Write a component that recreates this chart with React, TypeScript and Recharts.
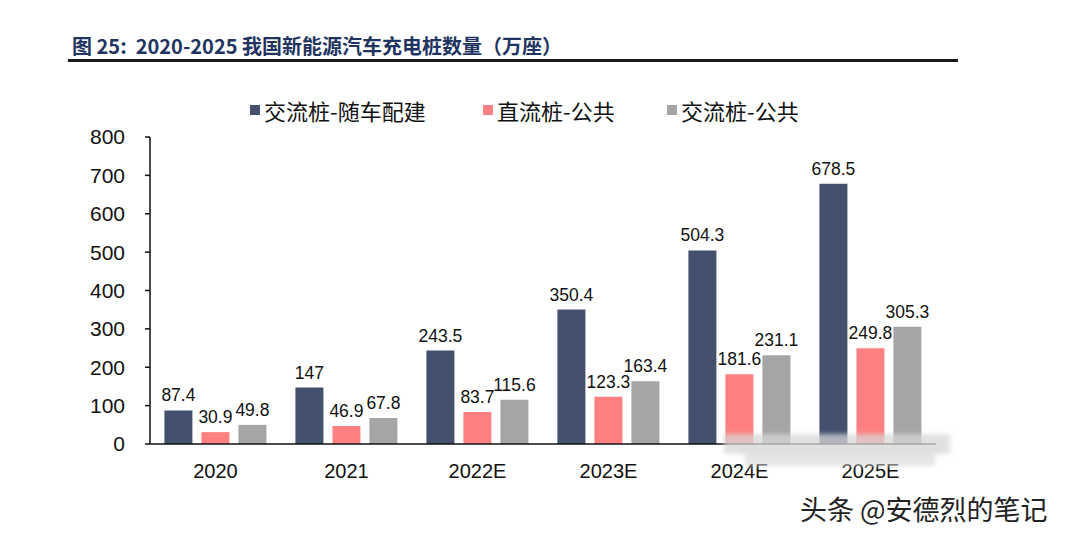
import React from 'react';
import { BarChart, Bar, XAxis, YAxis, LabelList } from 'recharts';

const years = ['2020', '2021', '2022E', '2023E', '2024E', '2025E'];
const acOwned = [87.4, 147, 243.5, 350.4, 504.3, 678.5];
const dcPublic = [30.9, 46.9, 83.7, 123.3, 181.6, 249.8];
const acPublic = [49.8, 67.8, 115.6, 163.4, 231.1, 305.3];
const yTicks = [0, 100, 200, 300, 400, 500, 600, 700, 800];
const boundaryTicks = [0, 1, 2, 3, 4, 5, 6];

const seriesInfo = [
    { key: 'acOwned', name: '交流桩-随车配建', color: '#44506E' },
    { key: 'dcPublic', name: '直流桩-公共', color: '#FF8080' },
    { key: 'acPublic', name: '交流桩-公共', color: '#A5A5A5' },
];

const data = years.map((y, i) => ({
    name: y,
    idx: i + 0.5,
    acOwned: acOwned[i],
    dcPublic: dcPublic[i],
    acPublic: acPublic[i],
}));

const FONT = '"Liberation Sans", Arial, sans-serif';
const CJK = '"Noto Sans CJK SC", "Noto Sans", sans-serif';

export default function App() {
    return (
        <div style={{ position: 'absolute', left: 0, top: 0, width: 1067, height: 536, background: '#fff', overflow: 'hidden' }}>
            {/* title */}
            <div style={{ position: 'absolute', left: 72, top: 33, fontFamily: CJK, fontWeight: 700, fontSize: 20, color: '#1F3461', whiteSpace: 'nowrap', lineHeight: '26px' }}>
                图 25:&nbsp; 2020-2025 我国新能源汽车充电桩数量（万座）
            </div>
            <div style={{ position: 'absolute', left: 68, top: 59, width: 890, height: 2.5, background: '#1a1a1a' }} />

            {/* legend */}
            {seriesInfo.map((s, i) => (
                <div key={s.key} style={{ position: 'absolute', left: [250, 483, 667][i], top: 95, display: 'flex', alignItems: 'center', whiteSpace: 'nowrap' }}>
                    <span style={{ width: 10, height: 10, background: s.color, marginRight: 4, display: 'inline-block' }} />
                    <span style={{ fontFamily: CJK, fontSize: 22, color: '#111', lineHeight: '30px' }}>{s.name}</span>
                </div>
            ))}

            <div style={{ position: 'absolute', left: 0, top: 0 }}>
                <BarChart
                    width={1067}
                    height={536}
                    data={data}
                    margin={{ top: 137, right: 131, left: 90, bottom: 61 }}
                    barCategoryGap="11%"
                    barGap={9}
                >
                    <XAxis
                        dataKey="name"
                        axisLine={{ stroke: '#111', strokeWidth: 1.5 }}
                        tickLine={false}
                        tickMargin={14}
                        height={30}
                        tick={{ fill: '#111', fontSize: 20, fontFamily: FONT }}
                    />
                    <XAxis
                        xAxisId="bounds"
                        type="number"
                        dataKey="idx"
                        domain={[0, 6]}
                        ticks={boundaryTicks}
                        axisLine={false}
                        tickLine={{ stroke: '#111', strokeWidth: 1.5 }}
                        tickSize={6}
                        tick={false}
                        height={1}
                    />
                    <YAxis
                        domain={[0, 800]}
                        ticks={yTicks}
                        width={60}
                        axisLine={{ stroke: '#111', strokeWidth: 1.5 }}
                        tickLine={{ stroke: '#111', strokeWidth: 1.5 }}
                        tickSize={5}
                        tickMargin={20}
                        tick={{ fill: '#111', fontSize: 21, fontFamily: FONT }}
                        interval={0}
                    />
                    {seriesInfo.map((s) => (
                        <Bar key={s.key} dataKey={s.key} name={s.name} fill={s.color} isAnimationActive={false}>
                            <LabelList
                                dataKey={s.key}
                                position="top"
                                offset={9}
                                style={{ fill: '#111', fontSize: 17.5, fontFamily: FONT }}
                            />
                        </Bar>
                    ))}
                </BarChart>
            </div>

            {/* mosaic blur over the bottom right */}
            <div style={{ position: 'absolute', left: 724, top: 434, width: 226, height: 20, background: 'rgba(215,215,215,0.75)', filter: 'blur(2px)' }} />
            <div style={{ position: 'absolute', left: 745, top: 450, width: 190, height: 16, background: 'rgba(220,220,220,0.7)', filter: 'blur(2px)' }} />

            {/* watermark */}
            <div style={{ position: 'absolute', left: 800, top: 489, fontFamily: CJK, fontSize: 27, color: '#222', whiteSpace: 'nowrap', textShadow: '0 0 2px #fff, 0 0 2px #fff' }}>
                头条 @安德烈的笔记
            </div>
        </div>
    );
}
